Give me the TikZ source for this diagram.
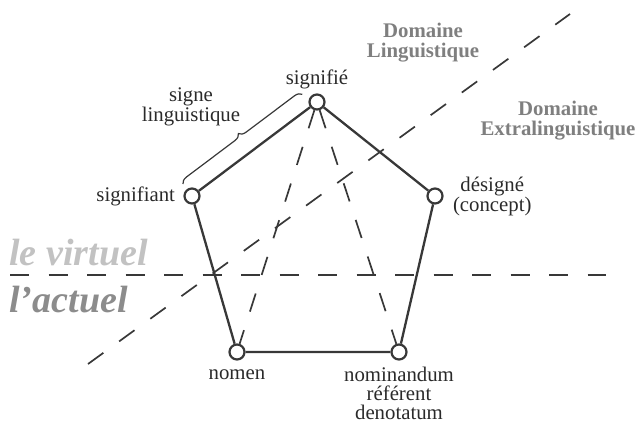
\documentclass[tikz,border=0pt]{standalone}
\usepackage{fontspec}
\setmainfont{Liberation Serif}
\usepackage{xcolor}
\usetikzlibrary{positioning,calc,decorations.pathreplacing,backgrounds}
\definecolor{linegray}{HTML}{383838}
\definecolor{textgray}{HTML}{2A2A2A}
\definecolor{domaingray}{HTML}{7F7F7F}
\definecolor{virtgray}{HTML}{C2C2C2}
\definecolor{actgray}{HTML}{8C8C8C}

\begin{document}
\begin{tikzpicture}[x=0.5pt, y=-0.5pt,
    vertex/.style={circle, draw=linegray, line width=1.1pt, fill=white, minimum size=7.5pt, inner sep=0pt},
    edgeline/.style={draw=linegray, line width=1.15pt},
    dashline/.style={draw=linegray, line width=0.85pt, dash pattern=on 9.5pt off 9.75pt},
    lbl/.style={font=\fontsize{10.4}{10}\selectfont, text=textgray, align=center, inner sep=1pt},
    domainlbl/.style={font=\fontsize{10.4}{10}\selectfont\bfseries, text=domaingray, align=center, inner sep=1pt},
    levellbl/.style={font=\fontsize{19}{19}\selectfont\bfseries\itshape, inner sep=0pt, anchor=base west},
    bracepath/.style={draw=linegray, line width=0.6pt, decorate, decoration={brace, amplitude=3.5pt}}
]
    \useasboundingbox (0,0) rectangle (638,423);
    % pentagon vertices
    \node[vertex] (sgnf) at (317,102) {};
    \node[vertex] (sgnt) at (192,196) {};
    \node[vertex] (desg) at (435,196) {};
    \node[vertex] (nomen) at (237,352) {};
    \node[vertex] (nomd) at (399,352) {};
    \node[lbl, above=1pt of sgnf] (sgnf-l) {signifié};
    \node[lbl, left=3pt of sgnt] (sgnt-l) {signifiant};
    \node[lbl, right=3.5pt of desg] (desg-l) {désigné\\(concept)};
    \node[lbl, below=3.5pt of nomen] (nomen-l) {nomen};
    \node[lbl, font=\fontsize{10.4}{9.4}\selectfont, below=2pt of nomd] (nomd-l) {nominandum\\référent\\denotatum};
    % domains and levels
    \node[domainlbl] (ling) at (423,43) {Domaine\\Linguistique};
    \node[domainlbl] (extra) at (558,121) {Domaine\\Extralinguistique};
    \node[levellbl, text=virtgray] (virt) at (9,265) {le virtuel};
    \node[levellbl, text=actgray] (act) at (9,312) {l'actuel};
    \coordinate (h1) at (10,275);
    \coordinate (h2) at (606,275);
    \coordinate (d1) at (88,364);
    \coordinate (d2) at (570,14);
    \begin{scope}[on background layer]
    \draw[dashline] (h1) -- (h2);
    \draw[dashline] (d1) -- (d2);
    \draw[dashline] (sgnf) -- (nomen);
    \draw[dashline] (sgnf) -- (nomd);
    \end{scope}
    \draw[edgeline] (sgnf) -- (desg) -- (nomd) -- (nomen) -- (sgnt) -- (sgnf);
    \draw[bracepath] ($(sgnt)!7.5pt!90:(sgnf)$) -- node[lbl, above left=5.5pt and 0pt] (signe) {signe\\linguistique} ($($(sgnf)!3.5pt!(sgnt)$)!7.5pt!-90:(sgnt)$);
\end{tikzpicture}
\end{document}
